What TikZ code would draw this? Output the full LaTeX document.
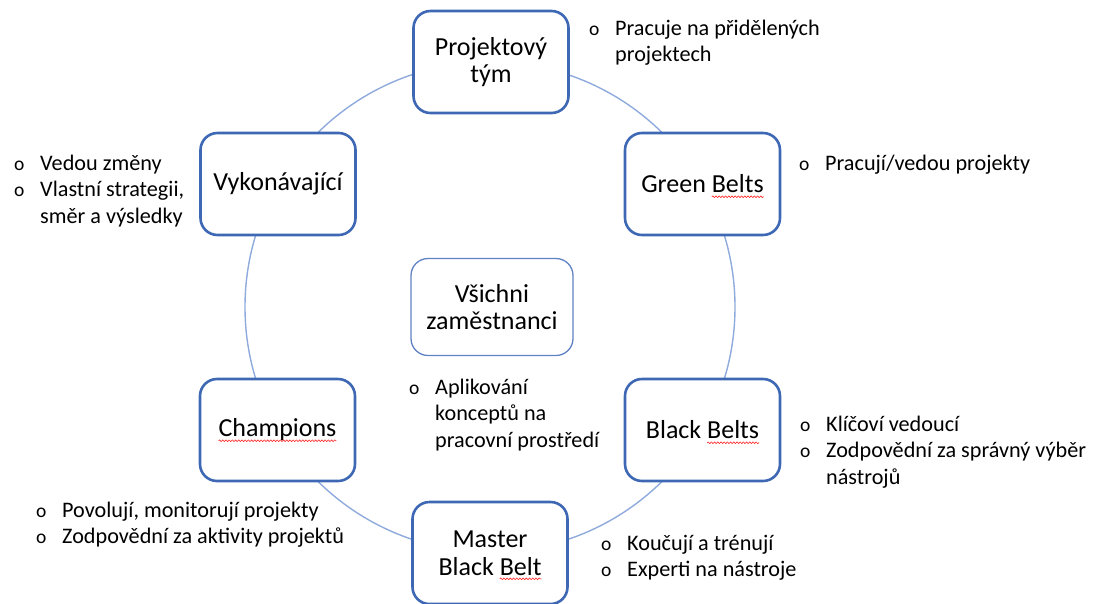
\documentclass[tikz,border=0pt]{standalone}
\usepackage{fontspec}
\setmainfont{Carlito}
\usepackage{xcolor}
\usepackage{tikz}
\usetikzlibrary{positioning,decorations.pathmorphing}

\definecolor{ramec}{RGB}{62,104,180}
\definecolor{ramecsv}{RGB}{96,130,196}
\definecolor{kruh}{RGB}{143,170,220}

% vlnovka pod slovem (kontrola pravopisu)
\newsavebox{\slovo}
\newcommand{\vlnka}[1]{\sbox{\slovo}{#1}\usebox{\slovo}\tikz[overlay,baseline=0pt]{\draw[red!85, line width=0.6pt, rounded corners=0pt,
    decorate, decoration={snake, amplitude=0.9pt, segment length=3.2pt}] (-\wd\slovo,-3.8pt) -- (0pt,-3.8pt);}}
% odrazkovy seznam
\newcommand{\bod}{{\fontsize{19.5}{19.5}\selectfont o}}
\newcommand{\seznam}[1]{\begin{tabular}[t]{@{}p{26pt}@{}l@{}}#1\end{tabular}}

\begin{document}
\begin{tikzpicture}[x=1pt,y=-1pt, line cap=round, line join=round,
    role/.style={draw=ramec, line width=2.6pt, fill=white, rounded corners=17pt,
      minimum width=155pt, minimum height=102pt, align=center, inner sep=2pt,
      font=\fontsize{26}{27.5}\selectfont},
    popis/.style={anchor=base west, inner sep=0pt, font=\fontsize{22.2}{26.5}\selectfont}]
  \useasboundingbox (0,0) rectangle (1098,603);

  % ===== kruh =====
  \draw[kruh, line width=1.4pt] (490,307) circle[radius=245pt];

  % ===== role =====
  \node[role] (tym) at (491,62) {Projektový\\tým};
  \node[role] (vyk) at (278,184) {Vykonávající};
  \node[role] (green) at (702.5,184) {Green \vlnka{Belts}};
  \node[role] (champ) at (277.5,430) {\vlnka{Champions}};
  \node[role] (black) at (702.5,430) {Black \vlnka{Belts}};
  \node[role] (master) at (490,553) {Master\\Black \vlnka{Belt}};
  \node[role, draw=ramecsv, line width=1.3pt, minimum width=162pt, minimum height=97pt]
    (vsichni) at (492,307) {Všichni\\zaměstnanci};

  % ===== popisy =====
  \node[popis] (tymtxt) at (589,35) {\seznam{\bod & Pracuje na přidělených\\ & projektech}};
  \node[popis] (greentxt) at (799,170) {\seznam{\bod & Pracují/vedou projekty}};
  \node[popis] (vyktxt) at (14,170) {\seznam{\bod & Vedou změny\\ \bod & Vlastní strategii,\\ & směr a výsledky}};
  \node[popis] (vsichnitxt) at (409,394) {\seznam{\bod & Aplikování\\ & konceptů na\\ & pracovní prostředí}};
  \node[popis] (blacktxt) at (800,431) {\seznam{\bod & Klíčoví vedoucí\\ \bod & Zodpovědní za správný výběr\\ & nástrojů}};
  \node[popis] (champtxt) at (36,517) {\seznam{\bod & Povolují, monitorují projekty\\ \bod & Zodpovědní za aktivity projektů}};
  \node[popis] (mastertxt) at (601,550) {\seznam{\bod & Koučují a trénují\\ \bod & Experti na nástroje}};
\end{tikzpicture}
\end{document}
